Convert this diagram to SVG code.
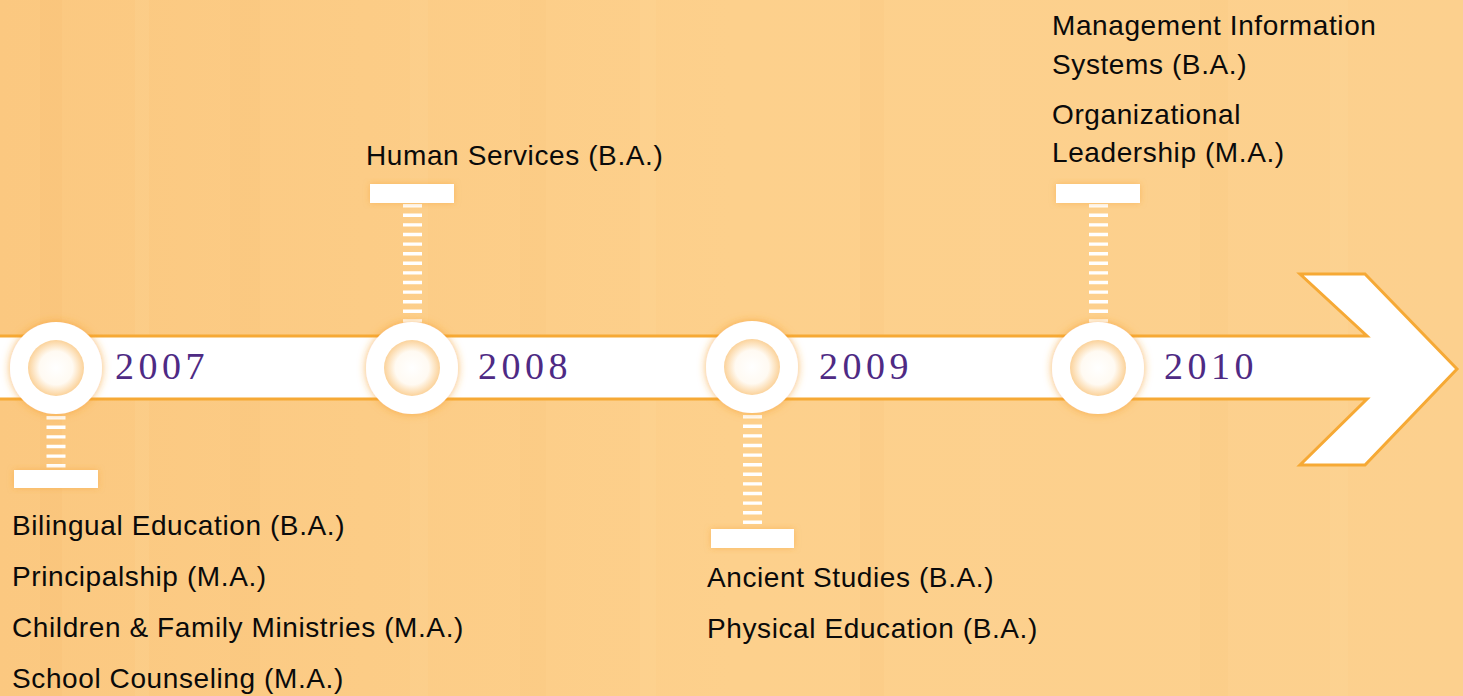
<svg xmlns="http://www.w3.org/2000/svg" width="1463" height="696" viewBox="0 0 1463 696">
<style>
.lbl{font-family:"Liberation Sans",Arial,sans-serif;font-size:28px;letter-spacing:0.6px;fill:#0a0a0a}
.yr{font-family:"Liberation Serif","Times New Roman",serif;font-size:38px;letter-spacing:4.5px;fill:#4e2a84}
.bar{fill:#fff}
.stem{stroke:#fff;stroke-width:19;stroke-dasharray:3.4 6.2;fill:none}
.ring{fill:#fff;filter:url(#glow)}
.core{fill:url(#coreg)}
</style>
<defs>
<linearGradient id="bg" x1="0" y1="0" x2="1" y2="0">
<stop offset="0" stop-color="#fbc880"/>
<stop offset="0.5" stop-color="#fdd08c"/>
<stop offset="1" stop-color="#fcd08e"/>
</linearGradient>
<radialGradient id="coreg" cx="0.5" cy="0.5" r="0.5">
<stop offset="0" stop-color="#ffffff"/>
<stop offset="0.6" stop-color="#fffaf2"/>
<stop offset="1" stop-color="#fbd29a"/>
</radialGradient>
<filter id="glow" x="-30%" y="-30%" width="160%" height="160%">
<feDropShadow dx="0" dy="0" stdDeviation="4" flood-color="#f59e2a" flood-opacity="0.7"/>
</filter>
<filter id="soft" x="-30%" y="-30%" width="160%" height="160%">
<feDropShadow dx="0" dy="0" stdDeviation="3" flood-color="#f5a030" flood-opacity="0.5"/>
</filter>
</defs>
<rect x="0" y="0" width="1463" height="696" fill="url(#bg)"/>
<g opacity="0.2">
<rect x="40" y="0" width="22" height="696" fill="#f8bd70"/>
<rect x="135" y="0" width="14" height="696" fill="#ffd99c"/>
<rect x="230" y="0" width="30" height="696" fill="#f9c47a"/>
<rect x="410" y="0" width="18" height="696" fill="#ffd89b"/>
<rect x="520" y="0" width="26" height="696" fill="#f9c57b"/>
<rect x="640" y="0" width="16" height="696" fill="#ffda9e"/>
<rect x="860" y="0" width="24" height="696" fill="#f9c67c"/>
<rect x="980" y="0" width="20" height="696" fill="#ffd99c"/>
<rect x="1200" y="0" width="28" height="696" fill="#f9c77e"/>
<rect x="1330" y="0" width="18" height="696" fill="#ffda9e"/>
</g>
<g id="connectors">
<polygon points="-5,336 1367,336 1300,274 1365,274 1457,369 1365,465 1300,465 1367,399 -5,399" fill="#fff" stroke="#f6a935" stroke-width="3" stroke-linejoin="miter"/>
<line class="stem" x1="56" y1="416" x2="56" y2="470"/>
<line class="stem" x1="412.5" y1="204" x2="412.5" y2="324"/>
<line class="stem" x1="752.5" y1="415" x2="752.5" y2="530"/>
<line class="stem" x1="1098.5" y1="204" x2="1098.5" y2="324"/>
</g>
<g id="node-2007">
<circle class="ring" cx="56" cy="368" r="46"/>
<circle class="core" cx="56" cy="368" r="28"/>
<text class="yr" x="115" y="379">2007</text>
<rect class="bar" x="14" y="470" width="84" height="18" filter="url(#soft)"/>
<text class="lbl" x="12" y="535">Bilingual Education (B.A.)</text>
<text class="lbl" x="12" y="586">Principalship (M.A.)</text>
<text class="lbl" x="12" y="637">Children &amp; Family Ministries (M.A.)</text>
<text class="lbl" x="12" y="688">School Counseling (M.A.)</text>
</g>
<g id="node-2008">
<circle class="ring" cx="412" cy="368" r="46"/>
<circle class="core" cx="412" cy="368" r="28"/>
<text class="yr" x="478" y="379">2008</text>
<rect class="bar" x="370" y="184" width="84" height="19" filter="url(#soft)"/>
<text class="lbl" x="366" y="165">Human Services (B.A.)</text>
</g>
<g id="node-2009">
<circle class="ring" cx="752" cy="367" r="46"/>
<circle class="core" cx="752" cy="367" r="28"/>
<text class="yr" x="819" y="379">2009</text>
<rect class="bar" x="711" y="529" width="83" height="19" filter="url(#soft)"/>
<text class="lbl" x="707" y="587">Ancient Studies (B.A.)</text>
<text class="lbl" x="707" y="638">Physical Education (B.A.)</text>
</g>
<g id="node-2010">
<circle class="ring" cx="1098" cy="368" r="46"/>
<circle class="core" cx="1098" cy="368" r="28"/>
<text class="yr" x="1164" y="379">2010</text>
<rect class="bar" x="1056" y="184" width="84" height="19" filter="url(#soft)"/>
<text class="lbl" x="1052" y="35">Management Information</text>
<text class="lbl" x="1052" y="74">Systems (B.A.)</text>
<text class="lbl" x="1052" y="124">Organizational</text>
<text class="lbl" x="1052" y="162">Leadership (M.A.)</text>
</g>
</svg>
